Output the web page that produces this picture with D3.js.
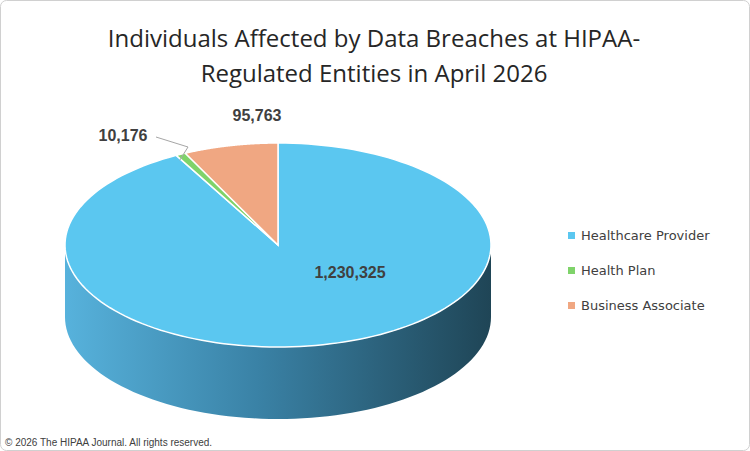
<!DOCTYPE html>
<html><head><meta charset="utf-8">
<script src="https://cdn.jsdelivr.net/npm/d3@7"></script>
<style>body{margin:0;background:#fff}svg{font-family:"Open Sans",Lato,sans-serif}</style>
</head><body><svg id="c" width="750" height="451"></svg>
<script>
const categories = ["Healthcare Provider", "Health Plan", "Business Associate"];
const values = [1230325, 10176, 95763];
const labels = ["1,230,325", "10,176", "95,763"];
const colors = ["#5BC7F0", "#7FD36A", "#F0A782"];

const svg = d3.select("#c");
svg.append("rect").attr("x", 0.5).attr("y", 0.5).attr("width", 749).attr("height", 450)
  .attr("rx", 6).attr("fill", "#fff").attr("stroke", "#d0d0d0");

const title = svg.append("text").attr("text-anchor", "middle").attr("fill", "#262626")
  .style("font-size", "24px");
title.append("tspan").attr("x", 374).attr("y", 47).text("Individuals Affected by Data Breaches at HIPAA-");
title.append("tspan").attr("x", 374).attr("y", 82).text("Regulated Entities in April 2026");

const cx = 278, cy = 245, rx = 213, ry = 102, depth = 72;
const total = d3.sum(values);
const ang = d3.scaleLinear().domain([0, total]).range([0, 2 * Math.PI]);
const cum = d3.cumsum([0, ...values]);
const pt = (t, dy = 0) => [cx + rx * Math.sin(t), cy - ry * Math.cos(t) + dy];

const defs = svg.append("defs");
const g = defs.append("linearGradient").attr("id", "side").attr("x1", 0).attr("x2", 1);
g.append("stop").attr("offset", 0).attr("stop-color", "#57b2dc");
g.append("stop").attr("offset", 0.45).attr("stop-color", "#3a82a6");
g.append("stop").attr("offset", 1).attr("stop-color", "#1f4556");

// side wall: front half (pi/2 .. 3pi/2)
const sideFor = (a0, a1) => {
  const s = Math.max(a0, Math.PI / 2), e = Math.min(a1, 3 * Math.PI / 2);
  if (e <= s) return null;
  const p = d3.path(), n = 80;
  d3.range(n + 1).forEach(i => {
    const [x, y] = pt(s + (e - s) * i / n);
    i ? p.lineTo(x, y) : p.moveTo(x, y);
  });
  d3.range(n + 1).forEach(i => {
    const [x, y] = pt(e - (e - s) * i / n, depth);
    p.lineTo(x, y);
  });
  p.closePath();
  return p.toString();
};
values.forEach((v, i) => {
  const d = sideFor(ang(cum[i]), ang(cum[i + 1]));
  if (d) svg.append("path").attr("d", d).attr("fill", i === 0 ? "url(#side)" : colors[i]);
});

const topFor = (a0, a1) => {
  const p = d3.path(), n = 160;
  p.moveTo(cx, cy);
  d3.range(n + 1).forEach(i => p.lineTo(...pt(a0 + (a1 - a0) * i / n)));
  p.closePath();
  return p.toString();
};
values.forEach((v, i) => {
  svg.append("path").attr("d", topFor(ang(cum[i]), ang(cum[i + 1])))
    .attr("fill", colors[i]).attr("stroke", "#fff").attr("stroke-width", 1.5);
});

const lab = svg.append("g").attr("fill", "#404040")
  .style("font-family", "Arial, 'Liberation Sans', sans-serif")
  .style("font-size", "16px").style("font-weight", "bold");
lab.append("text").attr("x", 350).attr("y", 278).attr("text-anchor", "middle").text(labels[0]);
lab.append("text").attr("x", 123).attr("y", 141).attr("text-anchor", "middle").text(labels[1]);
lab.append("text").attr("x", 257).attr("y", 121).attr("text-anchor", "middle").text(labels[2]);
const gm = pt((ang(cum[1]) + ang(cum[2])) / 2);
svg.append("polyline").attr("points", `156,137 188,147 ${gm[0] - 1},${gm[1] + 6}`)
  .attr("fill", "none").attr("stroke", "#a6a6a6");

const leg = svg.append("g");
categories.forEach((c, i) => {
  const y = 235 + i * 35;
  leg.append("rect").attr("x", 568).attr("y", y - 3).attr("width", 7).attr("height", 7).attr("fill", colors[i]);
  leg.append("text").attr("x", 581).attr("y", y + 5).attr("fill", "#404040")
    .style("font-family", "'DejaVu Sans', sans-serif").style("font-size", "13px").text(c);
});

svg.append("text").attr("x", 5).attr("y", 446).attr("fill", "#404040")
  .style("font-size", "10px").style("font-family", "Arial, 'Liberation Sans', sans-serif")
  .text("© 2026 The HIPAA Journal. All rights reserved.");
</script></body></html>
